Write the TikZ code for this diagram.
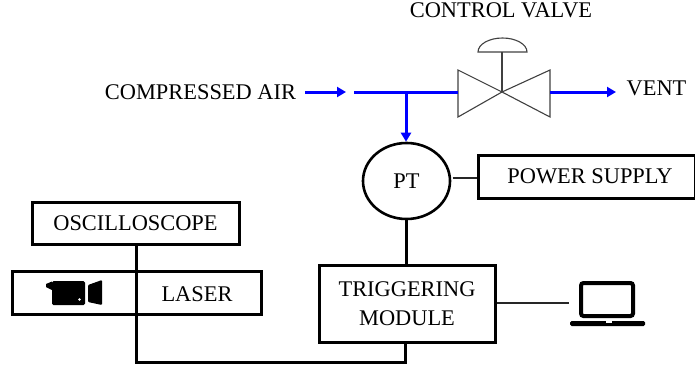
\documentclass[tikz,border=0pt]{standalone}
\usepackage{fontspec}
\setmainfont{Liberation Serif}
\usetikzlibrary{arrows.meta,shapes.geometric}
\tikzset{
  label text/.style={inner sep=0pt, font=\fontsize{22.4}{25}\selectfont},
  box/.style={draw, line width=3pt, minimum width=#1, inner sep=0pt, align=center, font=\fontsize{22.4}{25}\selectfont},
  wire/.style={line width=3pt},
  thin wire/.style={line width=1.1pt, draw=black!85},
  pipe/.style={draw=blue, line width=3pt},
  pipe arrow/.style={pipe, -{Triangle[length=9pt,width=10pt]}},
  valve line/.style={line width=1.1pt, draw=black!75}
}
\begin{document}
\begin{tikzpicture}[x=1pt,y=-1pt]
	  \useasboundingbox (0,0) rectangle (695,369);
	  % Text above the pipe
	  \node [label text] (air) at (200.5,92) {COMPRESSED AIR};
	  \node [label text] (title) at (501,10) {CONTROL VALVE};
	  \node [label text] (vent) at (656.5,88) {VENT};
	  % Boxes
	  \node [box=217pt, minimum height=43pt] (supply) at (586.5,176.5) {\hspace*{7pt}POWER SUPPLY};
	  \node [box=207pt, minimum height=42pt] (scope) at (135.5,223) {OSCILLOSCOPE};
	  \node [box=249pt, minimum height=43pt] (laserbox) at (136.5,292.5) {};
	  \node [label text] (laser) at (197,294) {LASER};
	  \node [box=176pt, minimum height=77pt] (module) at (407,303.5) {TRIGGERING\\[4pt]MODULE};
	  \node [draw, ellipse, line width=2.6pt, minimum width=87pt, minimum height=76pt, inner sep=0pt, font=\fontsize{22.4}{25}\selectfont] (pt) at (406.5,181) {PT};
	  % Valve
	  \coordinate (vc) at (502,92);
	  \coordinate (vl) at (458,92);
	  \coordinate (vr) at (550,92);
	  \coordinate (dome) at (502,52);
	  \draw [valve line] (vc) -- (458,70) -- (458,117) -- cycle;
	  \draw [valve line] (vc) -- (550,70) -- (550,117) -- cycle;
	  \draw [valve line] (vc) -- (dome);
	  \draw [valve line] (478,52) -- (527,52) arc [start angle=0, end angle=180, x radius=24.5pt, y radius=14pt] -- cycle;
	  % Blue pipes
	  \coordinate (airend) at (346,92);
	  \coordinate (airstart) at (305,92);
	  \coordinate (pipestart) at (354,92);
	  \coordinate (tee) at (406,92);
	  \coordinate (ventend) at (616,92);
	  \draw [pipe arrow] (airstart) -- (airend);
	  \draw [pipe] (pipestart) -- (vl);
	  \draw [pipe arrow] (tee) -- (tee |- pt.north);
	  \draw [pipe arrow] (vr) -- (ventend);
	  % Wires
	  \draw [wire] (pt.south) -- (pt.south |- module.north);
	  \draw [wire] (136.5,244) -- (136.5,362) -- (405,362) -- (405,342);
	  \coordinate (ptright) at (452.5,178);
	  \draw [thin wire] (ptright) -- (ptright -| supply.west);
	  \coordinate (laptopend) at (569,303);
	  \draw [thin wire] (module.east |- laptopend) -- (laptopend);
	  % Laptop
	  \draw [line width=4pt, rounded corners=2.5pt] (581,283) rectangle (633,316);
	  \fill [rounded corners=1.5pt] (570,321) rectangle (645,326);
	  \fill [white] (606,320) rectangle (612,322.5);
	  % Camera
	  \fill [rounded corners=1.5pt] (52,281) rectangle (85,305);
	  \fill (46,284) -- (52,281.5) -- (52,290) -- (46,287) -- cycle;
	  \fill [rounded corners=1pt] (88,285) -- (102,280) -- (102,305) -- (88,302) -- cycle;
	  \fill [white] (79.5,299.5) circle (1.3pt);
\end{tikzpicture}
\end{document}
